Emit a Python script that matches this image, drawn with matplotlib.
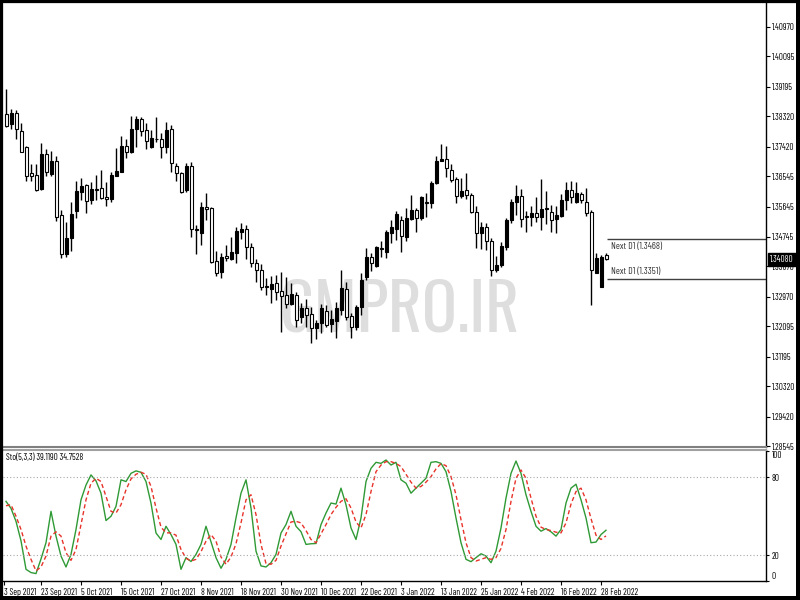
import numpy as np
import matplotlib
matplotlib.use('Agg')
from matplotlib import pyplot as plt
from matplotlib.patches import Rectangle

# daily GBPUSD candles, 14 Sep 2021 .. 1 Mar 2022
opens = [
    1.3838, 1.3809, 1.3841, 1.3790, 1.3742, 1.3664, 1.3658, 1.3616, 1.3720, 1.3661,
    1.3701, 1.3540, 1.3425, 1.3471, 1.3552, 1.3609, 1.3629, 1.3583, 1.3617, 1.3619,
    1.3594, 1.3586, 1.3656, 1.3668, 1.3744, 1.3727, 1.3794, 1.3823, 1.3791, 1.3741,
    1.3766, 1.3765, 1.3741, 1.3794, 1.3685, 1.3663, 1.3614, 1.3685, 1.3498, 1.3487,
    1.3564, 1.3560, 1.3404, 1.3372, 1.3419, 1.3408, 1.3428, 1.3490, 1.3498, 1.3446,
    1.3396, 1.3377, 1.3329, 1.3319, 1.3339, 1.3315, 1.3302, 1.3276, 1.3302, 1.3238,
    1.3263, 1.3246, 1.3204, 1.3220, 1.3255, 1.3216, 1.3226, 1.3258, 1.3319, 1.3241,
    1.3208, 1.3266, 1.3355, 1.3414, 1.3388, 1.3441, 1.3431, 1.3487, 1.3497, 1.3525,
    1.3474, 1.3527, 1.3554, 1.3530, 1.3578, 1.3576, 1.3634, 1.3701, 1.3706, 1.3673,
    1.3646, 1.3596, 1.3614, 1.3599, 1.3549, 1.3487, 1.3503, 1.3463, 1.3378, 1.3391,
    1.3446, 1.3525, 1.3577, 1.3596, 1.3537, 1.3535, 1.3545, 1.3533, 1.3557, 1.3549,
    1.3527, 1.3537, 1.3584, 1.3614, 1.3579, 1.3601, 1.3579, 1.3549, 1.3369, 1.3327,
    1.3421]
highs = [
    1.3913, 1.3854, 1.3852, 1.3813, 1.3745, 1.3692, 1.3690, 1.3752, 1.3735, 1.3730,
    1.3715, 1.3554, 1.3518, 1.3577, 1.3641, 1.3648, 1.3632, 1.3638, 1.3658, 1.3673,
    1.3638, 1.3666, 1.3737, 1.3774, 1.3764, 1.3834, 1.3834, 1.3831, 1.3813, 1.3792,
    1.3829, 1.3782, 1.3816, 1.3806, 1.3695, 1.3668, 1.3695, 1.3698, 1.3510, 1.3579,
    1.3606, 1.3564, 1.3434, 1.3426, 1.3451, 1.3475, 1.3505, 1.3515, 1.3510, 1.3456,
    1.3408, 1.3394, 1.3352, 1.3359, 1.3362, 1.3370, 1.3357, 1.3337, 1.3312, 1.3280,
    1.3290, 1.3268, 1.3228, 1.3276, 1.3273, 1.3258, 1.3283, 1.3377, 1.3342, 1.3248,
    1.3273, 1.3367, 1.3441, 1.3426, 1.3448, 1.3463, 1.3495, 1.3525, 1.3552, 1.3537,
    1.3560, 1.3599, 1.3560, 1.3596, 1.3606, 1.3641, 1.3715, 1.3750, 1.3744, 1.3691,
    1.3651, 1.3648, 1.3663, 1.3604, 1.3566, 1.3520, 1.3517, 1.3471, 1.3417, 1.3461,
    1.3530, 1.3586, 1.3629, 1.3616, 1.3552, 1.3566, 1.3592, 1.3645, 1.3612, 1.3569,
    1.3566, 1.3602, 1.3638, 1.3641, 1.3638, 1.3609, 1.3619, 1.3554, 1.3428, 1.3421,
    1.3426]
lows = [
    1.3801, 1.3795, 1.3765, 1.3726, 1.3641, 1.3641, 1.3610, 1.3613, 1.3656, 1.3656,
    1.3522, 1.3413, 1.3415, 1.3434, 1.3532, 1.3584, 1.3545, 1.3571, 1.3584, 1.3587,
    1.3567, 1.3577, 1.3655, 1.3666, 1.3710, 1.3723, 1.3742, 1.3775, 1.3735, 1.3739,
    1.3756, 1.3708, 1.3723, 1.3668, 1.3641, 1.3606, 1.3609, 1.3474, 1.3424, 1.3451,
    1.3525, 1.3398, 1.3359, 1.3354, 1.3404, 1.3406, 1.3396, 1.3468, 1.3408, 1.3385,
    1.3342, 1.3317, 1.3302, 1.3278, 1.3288, 1.3194, 1.3263, 1.3273, 1.3208, 1.3219,
    1.3208, 1.3160, 1.3171, 1.3189, 1.3208, 1.3194, 1.3174, 1.3243, 1.3228, 1.3174,
    1.3199, 1.3243, 1.3347, 1.3374, 1.3386, 1.3416, 1.3411, 1.3456, 1.3466, 1.3431,
    1.3464, 1.3525, 1.3490, 1.3525, 1.3535, 1.3560, 1.3632, 1.3699, 1.3651, 1.3638,
    1.3574, 1.3589, 1.3586, 1.3546, 1.3441, 1.3438, 1.3436, 1.3359, 1.3370, 1.3386,
    1.3436, 1.3517, 1.3540, 1.3503, 1.3490, 1.3507, 1.3520, 1.3495, 1.3512, 1.3490,
    1.3487, 1.3535, 1.3554, 1.3574, 1.3576, 1.3574, 1.3537, 1.3273, 1.3367, 1.3325,
    1.3406]
closes = [
    1.3804, 1.3841, 1.3794, 1.3727, 1.3656, 1.3656, 1.3613, 1.3720, 1.3668, 1.3701,
    1.3535, 1.3425, 1.3472, 1.3543, 1.3611, 1.3627, 1.3581, 1.3617, 1.3615, 1.3591,
    1.3587, 1.3658, 1.3671, 1.3745, 1.3727, 1.3794, 1.3823, 1.3789, 1.3759, 1.3767,
    1.3764, 1.3741, 1.3792, 1.3693, 1.3663, 1.3609, 1.3685, 1.3498, 1.3496, 1.3564,
    1.3557, 1.3401, 1.3367, 1.3414, 1.3413, 1.3429, 1.3493, 1.3498, 1.3444, 1.3396,
    1.3377, 1.3327, 1.3325, 1.3334, 1.3312, 1.3300, 1.3276, 1.3305, 1.3228, 1.3263,
    1.3243, 1.3204, 1.3220, 1.3263, 1.3213, 1.3231, 1.3263, 1.3322, 1.3236, 1.3208,
    1.3266, 1.3347, 1.3414, 1.3398, 1.3444, 1.3439, 1.3488, 1.3503, 1.3543, 1.3477,
    1.3530, 1.3554, 1.3530, 1.3592, 1.3576, 1.3635, 1.3701, 1.3706, 1.3678, 1.3643,
    1.3596, 1.3612, 1.3599, 1.3549, 1.3487, 1.3503, 1.3463, 1.3378, 1.3391, 1.3448,
    1.3525, 1.3579, 1.3596, 1.3527, 1.3533, 1.3545, 1.3533, 1.3557, 1.3560, 1.3525,
    1.3540, 1.3584, 1.3614, 1.3592, 1.3604, 1.3584, 1.3545, 1.3377, 1.3411, 1.3416,
    1.3408]

# stochastic (5,3,3): main line and signal line
stoch_main = [
    61.4, 56, 46, 31, 9, 6.5, 5.7, 17, 29.5, 53.7,
    34.6, 19.2, 10.8, 20.5, 39.7, 62.6, 74, 81.8, 77.2, 67.7,
    46.6, 49.9, 57.5, 78, 76.7, 83, 84.9, 83.8, 76.7, 60,
    37, 32, 42.2, 35.8, 28.2, 9, 18, 15, 20.5, 28.2,
    42.2, 30.2, 18, 9.8, 16.7, 28.2, 48.6, 67.7, 78, 56.3,
    23, 11.6, 10.8, 14.1, 20.5, 37, 43.5, 53.7, 42.2, 38,
    28.2, 28.7, 28.9, 43.5, 52.4, 60.1, 59.3, 71.6, 58.8, 40.9,
    32, 48.6, 76.7, 86.9, 91.5, 90.7, 93.3, 89.4, 91.5, 78,
    75.4, 67.7, 71.6, 75.4, 79.2, 91.5, 92, 90.7, 84.3, 69,
    48.6, 29.5, 16.7, 14.9, 18, 21, 19.2, 14.1, 23, 40.9,
    63.9, 83, 92.5, 83, 66.5, 53.7, 42.2, 38.4, 40.4, 37.9,
    34.6, 39.7, 60.1, 71.6, 74.6, 62.6, 48.6, 29.5, 30, 35.8,
    39.1190]
stoch_signal = [
    58, 58.8, 49.9, 39.7, 26.9, 16.7, 7.8, 10.8, 19.2, 34.6,
    37.9, 34.6, 21.8, 15.9, 24.3, 43.5, 62.6, 75.4, 79.2, 76.7,
    65.2, 53.7, 52.4, 58.8, 70.3, 78.7, 82.3, 83.8, 82.3, 72.9,
    56.3, 41.5, 37.1, 37.1, 35.3, 24.3, 17.5, 15.4, 16.7, 22.6,
    30.7, 35.8, 30.7, 18.5, 12.9, 18.5, 28.7, 44.8, 62.6, 66.5,
    51.2, 28.2, 13.4, 12.9, 15.9, 26.9, 36.3, 45.5, 46, 44.8,
    38.9, 32, 29.5, 36.3, 43.5, 51.2, 56.8, 61.4, 63.4, 56.3,
    45.5, 40.9, 51.2, 69, 84.3, 89.4, 92, 92, 90.7, 88.2,
    82.3, 76.2, 71.6, 72.9, 76.2, 80.5, 86.4, 90.5, 88.9, 80.5,
    66.5, 47.3, 29.5, 18, 15.4, 16.7, 18, 16.7, 18, 25.1,
    39.7, 61.4, 79.2, 85.6, 79.2, 63.9, 49.9, 41.5, 39.7, 38.9,
    37.6, 37.1, 44.8, 59.3, 69, 71.6, 62.6, 48.1, 35.3, 32,
    34.7528]

price_ticks = [1.40970, 1.40095, 1.39195, 1.38320, 1.37420, 1.36545, 1.35645, 1.34745,
               1.33870, 1.32970, 1.32095, 1.31195, 1.30320, 1.29420, 1.28545]
date_bars = [7, 15, 23, 31, 39, 47, 55, 63, 71, 79, 87, 95, 103, 111, 119]
date_labels = ['23 Sep 2021', '5 Oct 2021', '15 Oct 2021', '27 Oct 2021', '8 Nov 2021',
               '18 Nov 2021', '30 Nov 2021', '10 Dec 2021', '22 Dec 2021', '3 Jan 2022',
               '13 Jan 2022', '25 Jan 2022', '4 Feb 2022', '16 Feb 2022', '28 Feb 2022']
first_label = '3 Sep 2021'
next_levels = [1.3468, 1.3351]
last_price = 1.34080

# narrow terminal-like font for all the small labels
plt.rcParams['font.family'] = ['Barlow Condensed', 'DejaVu Sans']

fig = plt.figure(figsize=(8, 6), dpi=100)
ax = fig.add_axes([0.00375, 0.255, 0.95375, 0.74])
ax2 = fig.add_axes([0.00375, 0.0317, 0.95375, 0.2183])

# watermark, sized so that it spans about 240 px
wm = ax.text(0.35, 0.447, 'GMPRO.IR', transform=fig.transFigure, fontsize=60,
             family=['Oswald', 'Barlow Condensed', 'DejaVu Sans'], weight='bold',
             color='#dedede', ha='left', va='baseline', zorder=0.5, clip_on=False)
w = wm.get_window_extent(fig.canvas.get_renderer()).width
wm.set_fontsize(60 * 240 / w)

# candles
o = np.array(opens)
h = np.array(highs)
l = np.array(lows)
c = np.array(closes)
x = np.arange(len(o))
bull = c >= o
ax.vlines(x, l, h, color='black', lw=1, zorder=2)
body_lo = np.minimum(o, c)
body_h = np.maximum(np.abs(c - o), 0.00012)
ax.bar(x, body_h, bottom=body_lo, width=0.6, color=np.where(bull, 'black', 'white'),
       edgecolor='black', lw=0.8, zorder=3)

ax.set_xlim(-0.6, 152)
ax.set_ylim(1.2852, 1.4168)
ax.yaxis.tick_right()
ax.set_yticks(price_ticks, [f'{p:.5f}' for p in price_ticks])
ax.tick_params(axis='y', labelsize=6.5, length=3, width=0.8, pad=1.5)
ax.set_xticks([])
for s in ['top', 'left']:
    ax.spines[s].set_visible(False)
ax.spines['right'].set_linewidth(1)
ax.spines['bottom'].set_color('#808080')
ax.spines['bottom'].set_linewidth(1.5)

# next day levels
x0 = x[-1] + 0.2
ax.hlines(next_levels, x0, 152, color='#404040', lw=1, zorder=2)
ax.annotate(f'Next D1 ({next_levels[0]:.4f})', (x[-1] + 1, next_levels[0]), xytext=(0, -2),
            textcoords='offset points', va='top', ha='left', fontsize=7, color='#333333')
ax.annotate(f'Next D1 ({next_levels[1]:.4f})', (x[-1] + 1, next_levels[1]), xytext=(0, 2),
            textcoords='offset points', va='bottom', ha='left', fontsize=7, color='#333333')

# current price tag
ax.annotate(f'{last_price:.5f}', xy=(1.0, last_price), xycoords=('axes fraction', 'data'),
            xytext=(3, 0), textcoords='offset points', ha='left', va='center', color='white',
            fontsize=6.5, zorder=10, annotation_clip=False,
            bbox=dict(boxstyle='square,pad=0.2', fc='black', ec='black'))

# stochastic panel
ax2.plot(x, stoch_main, color='#2f9a35', lw=1)
ax2.plot(x, stoch_signal, color='#e8332a', lw=1, ls=(0, (3, 2)))
for lv in [20, 80]:
    ax2.axhline(lv, color='#a8a8a8', lw=0.8, ls=(0, (1, 2)))
ax2.set_xlim(-0.6, 152)
ax2.set_ylim(0.5, 101)
ax2.yaxis.tick_right()
ax2.set_yticks([0, 20, 80, 100], ['0', '20', '80', '100'])
ax2.tick_params(axis='y', labelsize=6.5, length=2, width=0.8, pad=2)
for lbl in ax2.get_yticklabels():
    if lbl.get_text() == '100':
        lbl.set_va('top')
    elif lbl.get_text() == '0':
        lbl.set_va('bottom')
ax2.set_xticks([-0.4] + date_bars, [first_label] + date_labels)
ax2.tick_params(axis='x', labelsize=6.5, length=3, width=0.8, pad=2)
for lbl in ax2.get_xticklabels():
    lbl.set_ha('left')
ax2.spines['left'].set_visible(False)
ax2.spines['top'].set_color('#a0a0a0')
ax2.spines['top'].set_linewidth(1.5)
ax2.spines['right'].set_linewidth(1)
ax2.spines['bottom'].set_linewidth(1)
ax2.text(0.004, 0.94, f'Sto(5,3,3) {stoch_main[-1]:.4f} {stoch_signal[-1]:.4f}',
         transform=ax2.transAxes, fontsize=6.5, va='center', ha='left')

# black frame round the picture, a bit heavier at the bottom and right
fig.patches.append(Rectangle((0, 0), 1, 1, transform=fig.transFigure, fill=False,
                             ec='black', lw=4.5))
fig.patches.append(Rectangle((0, 0), 1, 0.007, transform=fig.transFigure, fc='black', ec='none'))
fig.patches.append(Rectangle((0.995, 0), 0.005, 1, transform=fig.transFigure, fc='black', ec='none'))

fig.savefig('out.png', dpi=100, facecolor='white')
